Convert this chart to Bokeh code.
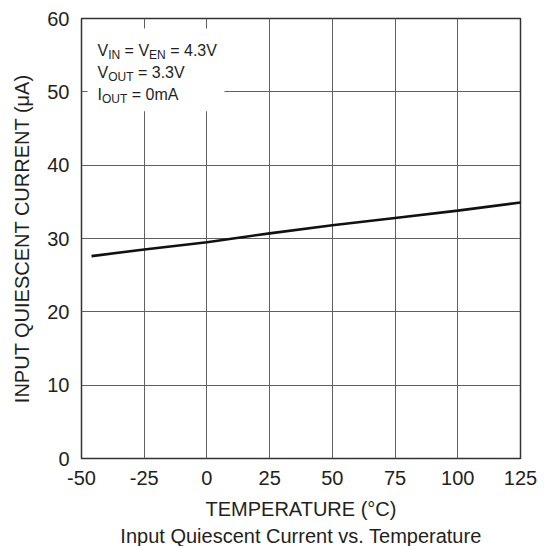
from bokeh.plotting import figure
from bokeh.models import Label, BoxAnnotation, Range1d, FixedTicker, Title
from bokeh.embed import file_html
from bokeh.resources import INLINE

# ---- data ----
temperature_c = [-46, -25, 0, 25, 50, 75, 100, 125]
iq_ua = [27.6, 28.5, 29.5, 30.7, 31.8, 32.8, 33.8, 34.9]
x_ticks = [-50, -25, 0, 25, 50, 75, 100, 125]
y_ticks = [0, 10, 20, 30, 40, 50, 60]
x_label = "TEMPERATURE (°C)"
y_label = "INPUT QUIESCENT CURRENT (μA)"
title_text = "Input Quiescent Current vs. Temperature"

FONT = "Liberation Sans"
TXT = "#231f20"
FS = "20px"

p = figure(width=548, height=546, output_backend="svg", toolbar_location=None,
           x_range=Range1d(x_ticks[0], x_ticks[-1]), y_range=Range1d(y_ticks[0], y_ticks[-1]),
           min_border_left=81, min_border_right=28, min_border_top=18, min_border_bottom=87,
           background_fill_color="white", border_fill_color="white")

p.outline_line_color = "#333333"
p.outline_line_width = 1.5

for ax, ticks in ((p.xaxis, x_ticks), (p.yaxis, y_ticks)):
    ax.ticker = FixedTicker(ticks=ticks)
    ax.major_tick_in = 0
    ax.major_tick_out = 0
    ax.minor_tick_in = 0
    ax.minor_tick_out = 0
    ax.axis_line_color = None
    ax.major_label_text_font = FONT
    ax.major_label_text_font_size = FS
    ax.major_label_text_color = TXT
    ax.axis_label_text_font = FONT
    ax.axis_label_text_font_size = FS
    ax.axis_label_text_font_style = "normal"
    ax.axis_label_text_color = TXT
    ax.major_label_overrides = {t: str(t) for t in ticks}

p.xaxis.axis_label = x_label
p.yaxis.axis_label = y_label
p.xaxis.major_label_standoff = 12
p.xaxis.axis_label_standoff = 10
p.yaxis.major_label_standoff = 12
p.yaxis.axis_label_standoff = 11

for g in (p.xgrid, p.ygrid):
    g.grid_line_color = "#606060"
    g.grid_line_width = 1

p.line(temperature_c, iq_ua, line_color="#111111", line_width=2.6)

# white box behind the condition text
p.add_layout(BoxAnnotation(left=-47.6, right=7.0, top=58.64, bottom=47.35,
                           fill_color="white", fill_alpha=1.0, line_color=None,
                           level="annotation"))

# Arial / Liberation Sans advance widths (per 1000 em)
W = {"V": 667, "I": 278, "N": 722, "E": 667, "O": 778, "U": 722, "T": 611, " ": 278,
     "=": 584, "4": 556, ".": 278, "3": 556, "0": 556, "m": 833, "A": 667}

def width(s, size):
    return sum(W[c] for c in s) * size / 1000.0

MAIN, SUB = 16, 12
lines = [
    [("V", False), ("IN", True), (" = V", False), ("EN", True), (" = 4.3V", False)],
    [("V", False), ("OUT", True), (" = 3.3V", False)],
    [("I", False), ("OUT", True), (" = 0mA", False)],
]
x0, base0, step = 16, 32, 22
for li, segs in enumerate(lines):
    xo = x0
    for s, sub in segs:
        size = SUB if sub else MAIN
        lead = len(s) - len(s.lstrip(" "))
        yo = -(base0 + li * step + (4 if sub else 0))
        p.add_layout(Label(x=x_ticks[0], y=y_ticks[-1], x_offset=xo + width(" " * lead, size),
                           y_offset=yo, text=s.lstrip(" "),
                           text_font=FONT, text_font_size=f"{size}px", text_color=TXT,
                           text_baseline="alphabetic", text_align="left"))
        xo += width(s, size)

# caption below the x-axis label
cap = Title(text=title_text, align="center", text_font=FONT, text_font_size=FS,
            text_font_style="normal", text_color=TXT, standoff=0, offset=0)
p.add_layout(cap, "below")

open("out.html", "w").write(file_html(p, INLINE))
